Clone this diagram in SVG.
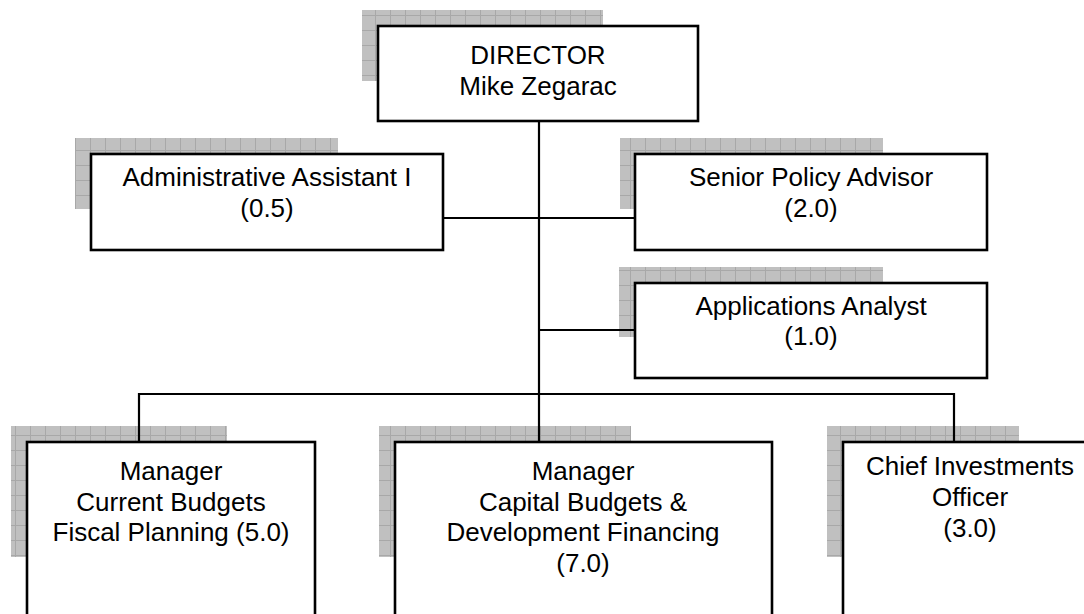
<svg xmlns="http://www.w3.org/2000/svg" width="1084" height="614" viewBox="0 0 1084 614">
  <defs>
    <!-- grey tiled fill used behind each position box -->
    <pattern id="tiles" patternUnits="userSpaceOnUse" width="15" height="15">
      <rect width="15" height="15" fill="#c0c0c0"/>
      <path d="M0.5 0V15M0 0.5H15" stroke="#a8a8a8" stroke-width="1" fill="none"/>
    </pattern>
  </defs>
  <style>
    .shadow { fill: url(#tiles); }
    .box { fill: #ffffff; stroke: #000000; stroke-width: 2.6; }
    .label { font-family: "Liberation Sans", Arial, sans-serif; font-size: 26px; fill: #000000; text-anchor: middle; }
    .link { stroke: #000000; stroke-width: 2.2; fill: none; }
  </style>
  <rect width="1084" height="614" fill="#ffffff"/>

  <g id="director">
    <rect class="shadow" x="362" y="10" width="241" height="71"/>
    <rect class="box" x="378" y="26" width="320" height="95"/>
    <text class="label" x="538" y="64">DIRECTOR</text>
    <text class="label" x="538" y="95">Mike Zegarac</text>
  </g>

  <g id="admin-assistant">
    <rect class="shadow" x="75" y="138" width="263" height="71"/>
    <rect class="box" x="91" y="154" width="352" height="96"/>
    <text class="label" x="267" y="186">Administrative Assistant I</text>
    <text class="label" x="267" y="217">(0.5)</text>
  </g>

  <g id="senior-policy-advisor">
    <rect class="shadow" x="620" y="138" width="263" height="71"/>
    <rect class="box" x="635" y="154" width="352" height="96"/>
    <text class="label" x="811" y="186">Senior Policy Advisor</text>
    <text class="label" x="811" y="217">(2.0)</text>
  </g>

  <g id="applications-analyst">
    <rect class="shadow" x="619" y="267" width="264" height="70"/>
    <rect class="box" x="635" y="283" width="352" height="95"/>
    <text class="label" x="811" y="315">Applications Analyst</text>
    <text class="label" x="811" y="345">(1.0)</text>
  </g>

  <g id="manager-current-budgets">
    <rect class="shadow" x="11" y="426" width="216" height="131"/>
    <rect class="box" x="27" y="442" width="288" height="200"/>
    <text class="label" x="171" y="480">Manager</text>
    <text class="label" x="171" y="511">Current Budgets</text>
    <text class="label" x="171" y="541">Fiscal Planning (5.0)</text>
  </g>

  <g id="manager-capital-budgets">
    <rect class="shadow" x="379" y="426" width="252" height="131"/>
    <rect class="box" x="395" y="442" width="377" height="200"/>
    <text class="label" x="583" y="480">Manager</text>
    <text class="label" x="583" y="511">Capital Budgets &amp;</text>
    <text class="label" x="583" y="541">Development Financing</text>
    <text class="label" x="583" y="572">(7.0)</text>
  </g>

  <g id="chief-investments-officer">
    <rect class="shadow" x="827" y="426" width="192" height="131"/>
    <rect class="box" x="843" y="442" width="254" height="200"/>
    <text class="label" x="970" y="475">Chief Investments</text>
    <text class="label" x="970" y="506">Officer</text>
    <text class="label" x="970" y="537">(3.0)</text>
  </g>

  <g id="connectors">
    <path class="link" d="M539 121V394"/>
    <path class="link" d="M443 218H635"/>
    <path class="link" d="M539 330H635"/>
    <path class="link" d="M139 442V394H954V442"/>
    <path class="link" d="M539 394V442"/>
  </g>
</svg>
